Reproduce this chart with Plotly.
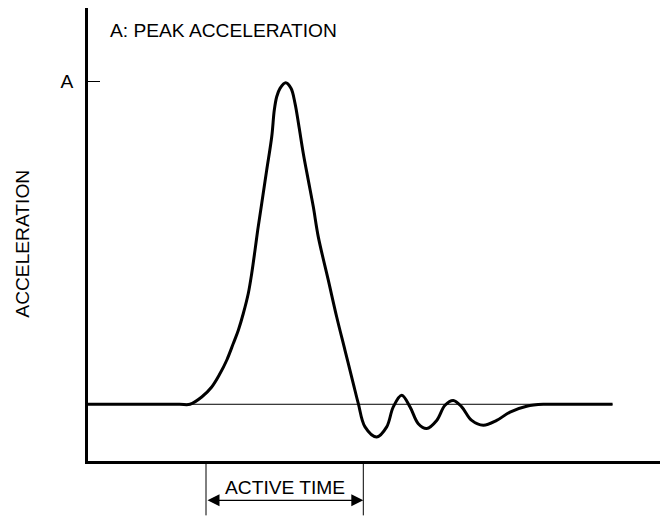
import plotly.graph_objects as go

# Acceleration pulse (time in arbitrary units 0-100, acceleration relative to peak A = 1)
time = [0, 8.0, 16.0, 17.83, 19.88, 21.63, 23.08, 24.25, 25.40, 26.28, 27.15, 28.02,
        28.62, 29.20, 29.67, 30.37, 31.24, 32.12, 32.57, 32.99, 33.57, 34.56, 35.49,
        36.19, 36.89, 37.64, 38.51, 39.39, 40.26, 42.01, 43.48, 44.93, 46.38, 47.26,
        48.43, 50.47, 52.22, 53.37, 54.84, 56.29, 57.74, 59.21, 60.96, 62.41, 63.86,
        65.33, 67.08, 69.11, 71.45, 73.78, 76.69, 79.60, 83.0, 91.7]
accel = [0, 0, 0, 0, 0.0226, 0.0536, 0.0950, 0.1362, 0.1879, 0.2291, 0.2808, 0.3427,
         0.4046, 0.4768, 0.5387, 0.6214, 0.7245, 0.8276, 0.9102, 0.9514, 0.9774, 0.9947, 0.9774,
         0.9310, 0.8585, 0.7762, 0.6935, 0.6108, 0.5180, 0.384, 0.270, 0.167, 0.064, 0.002,
         -0.070, -0.101, -0.070, -0.008, 0.028, -0.008, -0.060, -0.075, -0.050, -0.003, 0.012,
         -0.008, -0.050, -0.065, -0.050, -0.024, -0.006, 0, 0, 0]

baseline_x = [0, 91.7]
baseline_y = [0, 0]

peak_value = [1.0]
peak_label = ["A"]

active_start = 20.63
active_end = 48.13

FONT = "Liberation Sans, Arial, Helvetica, sans-serif"
FS = 19.2

fig = go.Figure()
fig.add_trace(go.Scatter(x=baseline_x, y=baseline_y, mode="lines",
                         line=dict(color="black", width=1), hoverinfo="skip"))
fig.add_trace(go.Scatter(x=time, y=accel, mode="lines",
                         line=dict(color="black", width=3, shape="spline", smoothing=1.0)))

fig.update_layout(
    width=668, height=518,
    margin=dict(l=88, r=8, t=8, b=57),
    paper_bgcolor="white", plot_bgcolor="white",
    showlegend=False,
    font=dict(family=FONT, size=FS, color="black"),
    xaxis=dict(range=[0, 100], showline=True, linewidth=2.5, linecolor="black",
               showgrid=False, zeroline=False, showticklabels=False, ticks=""),
    yaxis=dict(range=[-0.1755, 1.226], showline=True, linewidth=2.5, linecolor="black",
               showgrid=False, zeroline=False, tickvals=peak_value, ticktext=peak_label,
               ticks="inside", ticklen=12, tickwidth=1, tickcolor="black",
               ticklabelstandoff=8, tickfont=dict(size=FS)),
)

fig.add_annotation(text="A: PEAK ACCELERATION", x=3.5, y=1.155, xref="x", yref="y",
                   xanchor="left", yanchor="middle", showarrow=False, font=dict(size=FS))
fig.add_annotation(text="ACCELERATION", textangle=-90, x=-0.116, y=0.479,
                   xref="paper", yref="paper", xanchor="center", yanchor="middle",
                   showarrow=False, font=dict(size=FS))

# Active time markers
for xv in (active_start, active_end):
    fig.add_shape(type="line", x0=xv, x1=xv, y0=0, y1=-0.12, xref="x", yref="paper",
                  line=dict(color="black", width=1))
fig.add_annotation(text="", x=active_end, y=-0.0868, xref="x", yref="paper",
                   ax=active_start, ay=0, axref="x", ayref="pixel",
                   showarrow=True, arrowside="end+start", arrowhead=2,
                   arrowsize=2, arrowwidth=1.2, arrowcolor="black", standoff=0, startstandoff=0)
fig.add_annotation(text="ACTIVE TIME", x=(active_start + active_end) / 2, y=-0.058,
                   xref="x", yref="paper", xanchor="center", yanchor="middle",
                   showarrow=False, font=dict(size=FS))

fig.write_html("out.html", config={"displayModeBar": False},
               post_script="document.body.style.margin='0';")
